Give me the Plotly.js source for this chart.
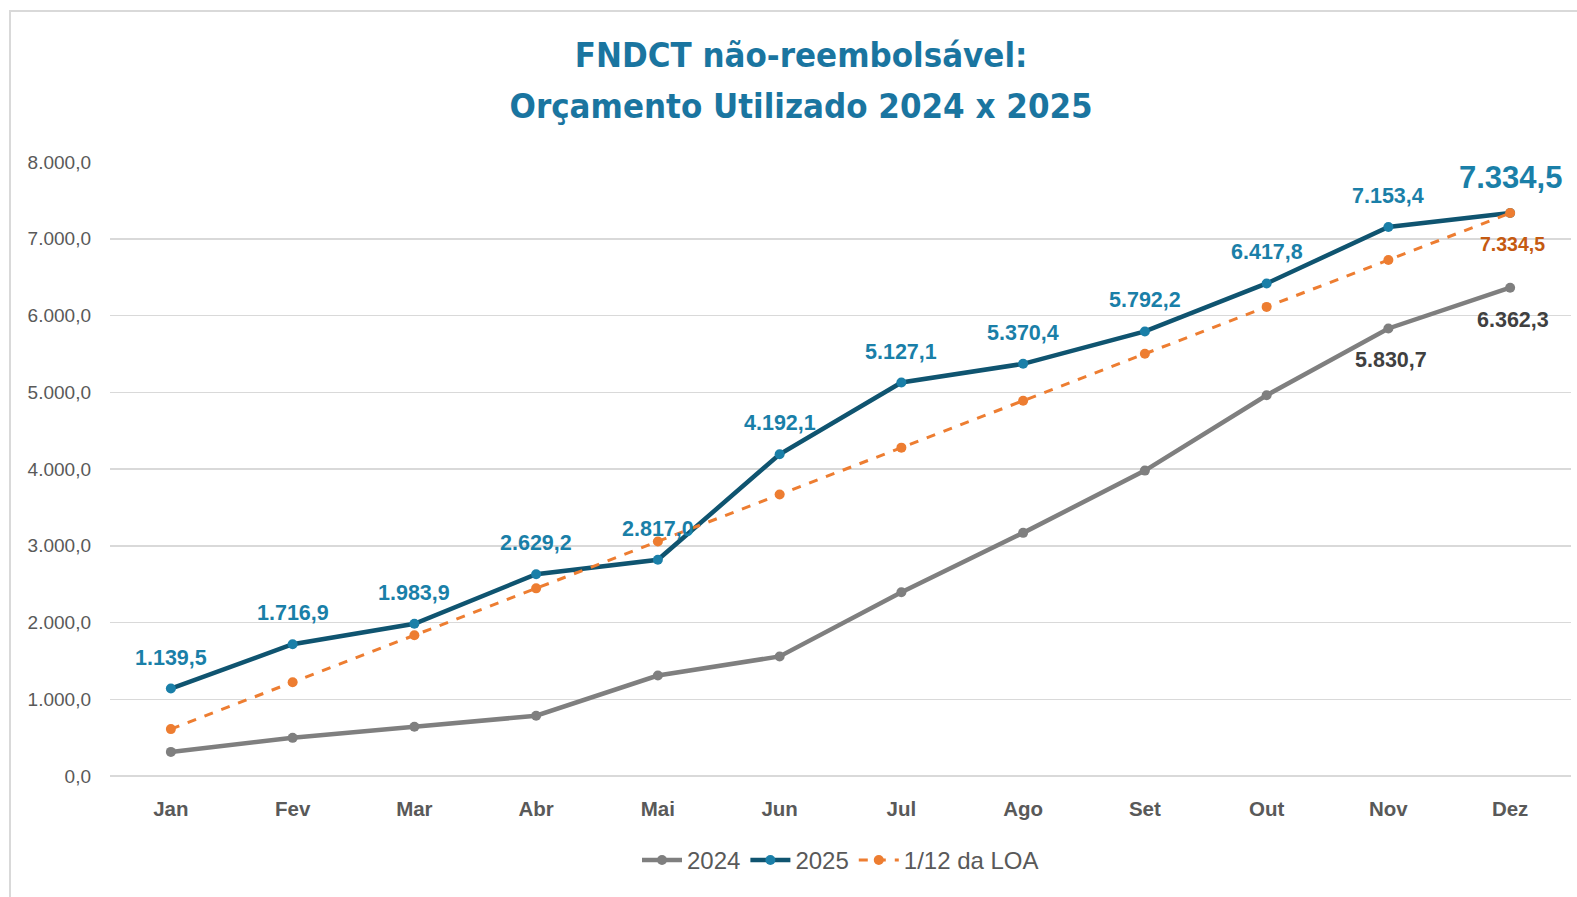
<!DOCTYPE html>
<html><head><meta charset="utf-8">
<script src="https://cdn.plot.ly/plotly-3.0.1.min.js"></script>
<style>
html,body{margin:0;padding:0;background:#fff;overflow:hidden;}
#chart{position:absolute;left:0;top:0;width:1577px;height:897px;}
#frame{position:absolute;left:9px;top:10px;width:1620px;height:1000px;border:2px solid #d9d9d9;pointer-events:none;}
</style></head>
<body>
<div id="chart"></div>
<div id="frame"></div>
<script>
const months = ["Jan","Fev","Mar","Abr","Mai","Jun","Jul","Ago","Set","Out","Nov","Dez"];
const v2024 = [314, 497, 641, 785, 1309, 1558, 2395, 3168, 3979, 4961, 5830.7, 6362.3];
const v2025 = [1139.5, 1716.9, 1983.9, 2629.2, 2817.0, 4192.1, 5127.1, 5370.4, 5792.2, 6417.8, 7153.4, 7334.5];
const vLOA = [611.2, 1222.4, 1833.6, 2444.8, 3056.0, 3667.3, 4278.5, 4889.7, 5500.9, 6112.1, 6723.3, 7334.5];
const yTicks = [0, 1000, 2000, 3000, 4000, 5000, 6000, 7000, 8000];
const titleLines = ["FNDCT não-reembolsável:", "Orçamento Utilizado 2024 x 2025"];

function fmt(v){
  const s = v.toFixed(1).split(".");
  return s[0].replace(/\B(?=(\d{3})+(?!\d))/g, ".") + "," + s[1];
}

const numFont = "Liberation Sans, Arial, sans-serif";
const traces = [
  {x: months, y: v2024, name: "2024", mode: "lines+markers", type: "scatter",
   line: {color: "#7f7f7f", width: 4.5}, marker: {color: "#7f7f7f", size: 10}},
  {x: months, y: v2025, name: "2025", mode: "lines+markers", type: "scatter",
   line: {color: "#0f5470", width: 4.5}, marker: {color: "#1a7fa8", size: 10}},
  {x: months, y: vLOA, name: "1/12 da LOA", mode: "lines+markers", type: "scatter",
   line: {color: "#ed7d31", width: 3, dash: "dash"}, marker: {color: "#ed7d31", size: 10}}
];

const annotations = [];
v2025.forEach((v, i) => {
  const last = i === v2025.length - 1;
  annotations.push({x: months[i], y: v, text: fmt(v), showarrow: false, xanchor: "center", yanchor: "middle",
    yshift: last ? 36 : 31,
    font: {family: numFont, size: last ? 31 : 21.5, color: "#1a7fa8", weight: "bold"}});
});
annotations.push({x: months[11], y: vLOA[11], text: fmt(vLOA[11]), showarrow: false, xanchor: "center", yanchor: "middle",
  yshift: -31, xshift: 2, font: {family: numFont, size: 19.5, color: "#c55a11", weight: "bold"}});
[10, 11].forEach(i => {
  annotations.push({x: months[i], y: v2024[i], text: fmt(v2024[i]), showarrow: false, xanchor: "center", yanchor: "middle",
    yshift: -32, xshift: 3, font: {family: numFont, size: 21.5, color: "#404040", weight: "bold"}});
});

const titleText = titleLines.map(t => '<span style="font-size:34.5px">' + t + '</span>').join("<br>");

const layout = {
  width: 1577, height: 897,
  paper_bgcolor: "#ffffff", plot_bgcolor: "#ffffff",
  separators: ",.",
  margin: {l: 110, r: 6, t: 162, b: 120.5},
  title: {text: titleText,
    x: 0.508, xanchor: "center", y: 1 - 67/897, yanchor: "middle",
    font: {family: "Liberation Sans Narrow, DejaVu Sans Condensed, Roboto, sans-serif", size: 39, color: "#1a75a0", weight: "bold"}},
  xaxis: {type: "category", range: [-0.5, 11.5], showgrid: false, zeroline: false, showline: false, ticks: "",
    ticklabelstandoff: 18,
    tickfont: {family: numFont, size: 20.5, color: "#595959", weight: "bold"}},
  yaxis: {range: [0, 8000], tickvals: yTicks, tickformat: ",.1f", showgrid: true,
    gridcolor: "#d9d9d9", gridwidth: 1.5, zeroline: true, zerolinecolor: "#d9d9d9", zerolinewidth: 1.5,
    showline: false, ticks: "", ticklabelstandoff: 18,
    tickfont: {family: numFont, size: 19, color: "#595959"}},
  showlegend: true,
  legend: {orientation: "h", x: 0.5, xanchor: "center", y: -0.1375, yanchor: "middle",
    font: {family: numFont, size: 24, color: "#595959"}, itemwidth: 40, bgcolor: "rgba(0,0,0,0)"},
  annotations: annotations
};

Plotly.newPlot("chart", traces, layout, {displayModeBar: false, staticPlot: true});
</script>
</body></html>
